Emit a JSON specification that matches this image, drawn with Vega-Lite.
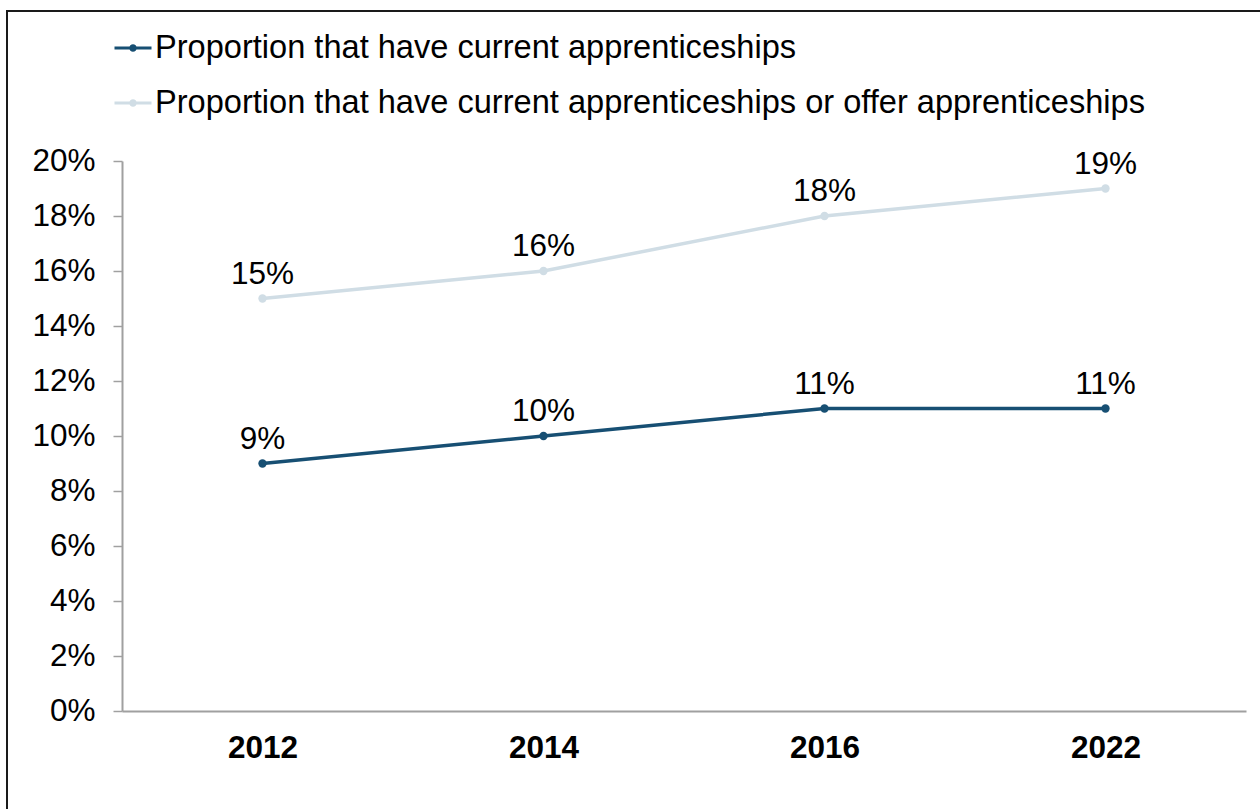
{
  "$schema": "https://vega.github.io/schema/vega-lite/v6.json",
  "autosize": "none",
  "width": 1260,
  "height": 800,
  "padding": {"left": 7, "top": 11, "right": 0, "bottom": 0},
  "background": "white",
  "config": {
    "font": "Liberation Sans",
    "view": {"stroke": "#1a1a1a", "strokeWidth": 2}
  },
  "data": {
    "values": [
      {"year": "2012", "series": "Proportion that have current apprenticeships", "value": 0.09},
      {"year": "2014", "series": "Proportion that have current apprenticeships", "value": 0.10},
      {"year": "2016", "series": "Proportion that have current apprenticeships", "value": 0.11},
      {"year": "2022", "series": "Proportion that have current apprenticeships", "value": 0.11},
      {"year": "2012", "series": "Proportion that have current apprenticeships or offer apprenticeships", "value": 0.15},
      {"year": "2014", "series": "Proportion that have current apprenticeships or offer apprenticeships", "value": 0.16},
      {"year": "2016", "series": "Proportion that have current apprenticeships or offer apprenticeships", "value": 0.18},
      {"year": "2022", "series": "Proportion that have current apprenticeships or offer apprenticeships", "value": 0.19}
    ]
  },
  "encoding": {
    "x": {
      "field": "year", "type": "nominal", "sort": null,
      "scale": {"type": "point", "padding": 0.5, "range": [115, 1239]},
      "axis": {
        "title": null, "offset": -100, "labelAngle": 0,
        "ticks": false, "domainColor": "#a0a0a0", "domainWidth": 2,
        "labelFont": "Liberation Sans", "labelFontSize": 31.5, "labelFontWeight": "bold",
        "labelColor": "black", "labelPadding": 21
      }
    },
    "y": {
      "field": "value", "type": "quantitative",
      "scale": {"domain": [0, 0.2], "range": [700, 150], "nice": false},
      "axis": {
        "title": null, "offset": -115, "format": ".0%", "grid": false,
        "values": [0, 0.02, 0.04, 0.06, 0.08, 0.1, 0.12, 0.14, 0.16, 0.18, 0.2],
        "domainColor": "#a0a0a0", "domainWidth": 2, "tickColor": "#a0a0a0", "tickWidth": 1.5, "tickSize": 9,
        "labelFont": "Liberation Sans", "labelFontSize": 31.5, "labelColor": "black", "labelPadding": 18
      }
    },
    "color": {
      "field": "series", "type": "nominal",
      "scale": {
        "domain": ["Proportion that have current apprenticeships", "Proportion that have current apprenticeships or offer apprenticeships"],
        "range": ["#174f73", "#d0dde5"]
      },
      "legend": {
        "title": null, "orient": "none", "legendX": 106, "legendY": 17,
        "symbolType": "M-1,0L1,0M-0.12,0A0.12,0.12 0 1,1 0.12,0A0.12,0.12 0 1,1 -0.12,0Z",
        "symbolSize": 1369, "symbolStrokeWidth": 3,
        "labelFont": "Liberation Sans", "labelFontSize": 32.6, "labelColor": "black",
        "labelOffset": 2, "rowPadding": 18, "labelLimit": 2000
      }
    }
  },
  "layer": [
    {
      "mark": {"type": "line", "strokeWidth": 3.5, "point": {"filled": true, "size": 70}}
    },
    {
      "mark": {"type": "text", "baseline": "bottom", "dy": -8, "fontSize": 31.5, "color": "black", "font": "Liberation Sans"},
      "encoding": {
        "text": {"field": "value", "type": "quantitative", "format": ".0%"},
        "color": {"value": "black"}
      }
    }
  ]
}
